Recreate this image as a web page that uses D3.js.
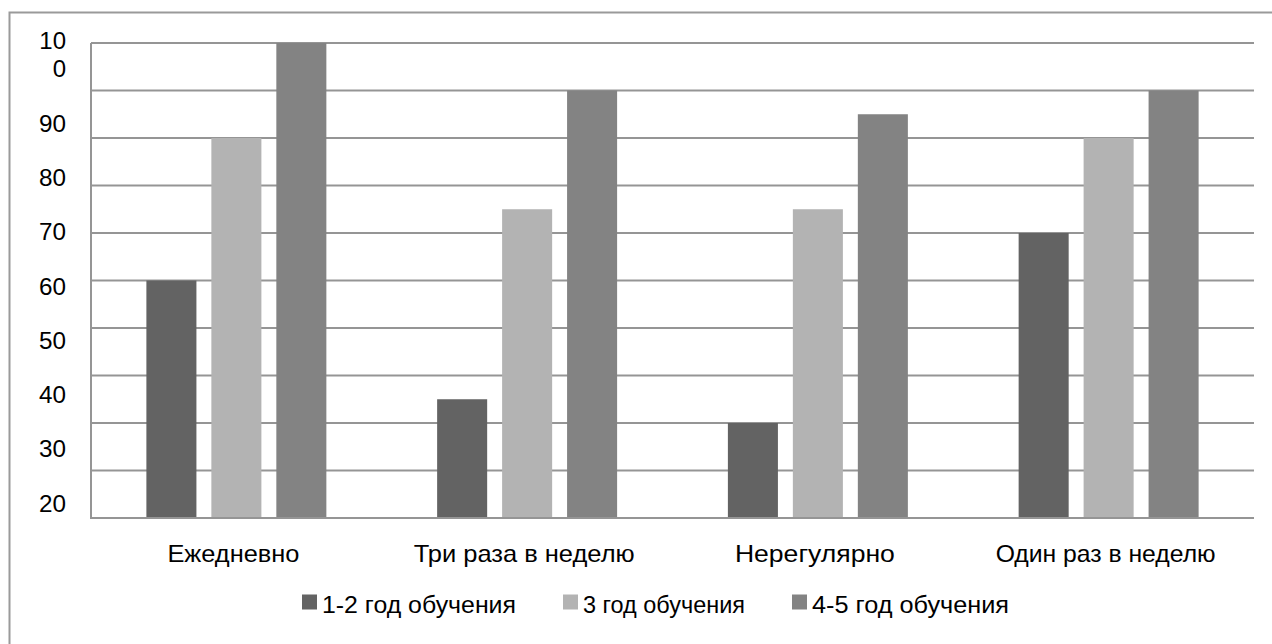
<!DOCTYPE html>
<html>
<head>
<meta charset="utf-8">
<script src="https://cdn.jsdelivr.net/npm/d3@7"></script>
<style>
  html, body { margin: 0; padding: 0; background: #ffffff; }
  svg { display: block; font-family: "Liberation Sans", Arial, sans-serif; }
</style>
</head>
<body>
<svg id="chart" width="1272" height="644"></svg>
<script>
// ---- data ----
const categories = ["Ежедневно", "Три раза в неделю", "Нерегулярно", "Один раз в неделю"];
const seriesNames = ["1-2 год обучения", "3 год обучения", "4-5 год обучения"];
const series1 = [50, 25, 20, 60];   // 1-2 год обучения
const series2 = [80, 65, 65, 80];   // 3 год обучения
const series3 = [100, 90, 85, 90];  // 4-5 год обучения
const gridValues = [0, 10, 20, 30, 40, 50, 60, 70, 80, 90, 100];
const tickLabels = ["100", "90", "80", "70", "60", "50", "40", "30", "20"];

const colors = ["#636363", "#b3b3b3", "#838383"];
const seriesValues = [series1, series2, series3];

// rendered text widths in the original (narrow typeface)
const catWidths = [132, 221, 160, 220];
const legWidths = [194, 162, 197];

const svg = d3.select("#chart");
const W = 1272, H = 644;
const plot = { left: 91, right: 1254, top: 43, bottom: 518 };

// outer frame (cropped)
svg.append("path")
  .attr("d", `M9.5,${H} L9.5,12.5 L${W},12.5`)
  .attr("fill", "none").attr("stroke", "#9a9a9a").attr("stroke-width", 2);

const y = d3.scaleLinear().domain([0, 100]).range([plot.bottom, plot.top]);
const x0 = d3.scaleBand().domain(categories).range([plot.left, plot.right])
  .paddingInner(0.381).paddingOuter(0.1905);
const x1 = d3.scaleBand().domain(seriesNames).range([0, x0.bandwidth()]).paddingInner(0.23);

// gridlines
svg.append("g").selectAll("line").data(gridValues.filter(v => v > 0)).join("line")
  .attr("x1", plot.left).attr("x2", plot.right)
  .attr("y1", d => y(d)).attr("y2", d => y(d))
  .attr("stroke", "#959595").attr("stroke-width", 2);

// bars
const rows = categories.map((c, i) => ({ c, vals: seriesNames.map((s, j) => ({ s, j, v: seriesValues[j][i] })) }));
svg.append("g").selectAll("g").data(rows).join("g")
  .attr("transform", d => `translate(${x0(d.c)},0)`)
  .selectAll("rect").data(d => d.vals).join("rect")
  .attr("x", d => x1(d.s)).attr("width", x1.bandwidth())
  .attr("y", d => y(d.v)).attr("height", d => y(0) - y(d.v))
  .attr("fill", d => colors[d.j]);

// axes lines
svg.append("path")
  .attr("d", `M${plot.left},${plot.top} L${plot.left},${plot.bottom} L${plot.right},${plot.bottom}`)
  .attr("fill", "none").attr("stroke", "#959595").attr("stroke-width", 2);

// y tick labels (as laid out in the original, with the wrapped "100")
const yl = d3.scalePoint().domain(tickLabels).range([69, 503]);
const ylab = svg.append("g").attr("font-size", 24).attr("fill", "#000").attr("text-anchor", "end");
tickLabels.forEach(t => {
  const g = ylab.append("text").attr("x", 66).attr("y", yl(t)).attr("dy", "0.36em")
    .attr("textLength", 27).attr("lengthAdjust", "spacingAndGlyphs");
  if (t.length > 2) {
    g.attr("textLength", null);
    g.append("tspan").attr("x", 66).attr("dy", "-0.82em").text(t.slice(0, 2));
    g.append("tspan").attr("x", 66).attr("dy", "1.17em").text(t.slice(2));
  } else {
    g.text(t);
  }
});

// category labels
svg.append("g").selectAll("text").data(categories).join("text")
  .attr("x", d => x0(d) + x0.bandwidth() / 2 - 3)
  .attr("y", 553).attr("dy", "0.36em")
  .attr("text-anchor", "middle").attr("font-size", 24).attr("fill", "#000")
  .attr("textLength", (d, i) => catWidths[i]).attr("lengthAdjust", "spacingAndGlyphs")
  .text(d => d);

// legend
const mk = 15, mgap = 5, igap = 47;
const itemW = legWidths.map(w => mk + mgap + w);
const total = d3.sum(itemW) + igap * (itemW.length - 1);
const starts = [];
let cx = 655.5 - total / 2;
itemW.forEach(w => { starts.push(cx); cx += w + igap; });
const items = svg.append("g").selectAll("g").data(seriesNames).join("g")
  .attr("transform", (d, i) => `translate(${starts[i]},604)`);
items.append("rect").attr("width", mk).attr("height", mk).attr("y", -mk / 2 - 2)
  .attr("fill", (d, i) => colors[i]);
items.append("text").attr("x", mk + mgap).attr("y", 0).attr("dy", "0.36em")
  .attr("font-size", 24).attr("fill", "#000")
  .attr("textLength", (d, i) => legWidths[i]).attr("lengthAdjust", "spacingAndGlyphs")
  .text(d => d);
</script>
</body>
</html>
